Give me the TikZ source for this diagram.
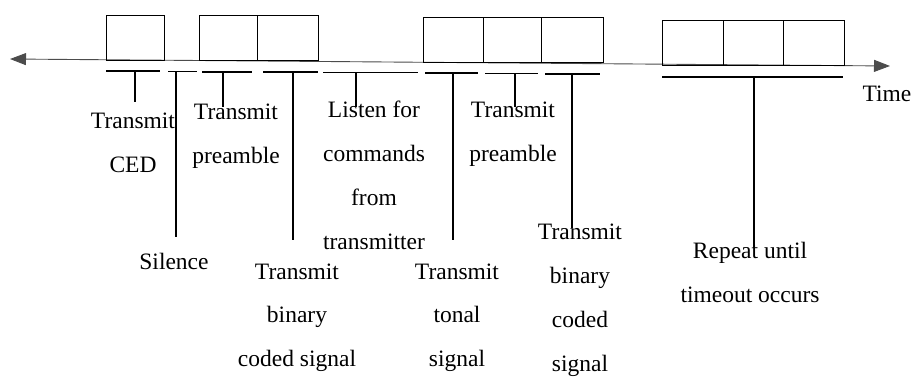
\documentclass[tikz,border=0pt]{standalone}
\usepackage{fontspec}
\setmainfont{Liberation Serif}
\usetikzlibrary{arrows.meta}
\begin{document}
\begin{tikzpicture}[x=1pt,y=-1pt,
  cell/.style={draw,line width=1.3pt,inner sep=0pt,minimum height=45pt,anchor=south west},
  axis/.style={line width=0.9pt,black!70,{Triangle[length=16pt,width=12pt]}-{Triangle[length=16pt,width=12pt]}},
  seg/.style={line width=1.4pt},
  tick/.style={line width=1.4pt},
  lbl/.style={font=\fontsize{23.5}{44}\selectfont,align=center,anchor=base,inner sep=0pt}]
\useasboundingbox (0,0) rectangle (911,379);

% time axis
\coordinate (tL) at (10,59);
\coordinate (tR) at (890,66);
\draw[axis] (tL) -- (tR);
\node[lbl] (time) at (887,102) {Time};

% frames above the axis
\node[cell,minimum width=58pt] (b1) at (106,61) {};
\node[cell,minimum width=58pt] (b2) at (199,61) {};
\node[cell,minimum width=61pt] (b3) at (257,61) {};
\node[cell,minimum width=60pt] (b4) at (423,63) {};
\node[cell,minimum width=58pt] (b5) at (483,63) {};
\node[cell,minimum width=62pt] (b6) at (541,63) {};
\node[cell,minimum width=61pt] (b7) at (662,66) {};
\node[cell,minimum width=60pt] (b8) at (723,66) {};
\node[cell,minimum width=61pt] (b9) at (783,66) {};

% interval bars under the axis
\draw[seg] (106,71) -- (160,71);
\draw[seg] (168,71.5) -- (197,71.5);
\draw[seg] (202,72) -- (252,72);
\draw[seg] (263,72) -- (318,72);
\draw[seg] (323,72.5) -- (418,72.5);
\draw[seg] (425,73) -- (478,73);
\draw[seg] (485,73.5) -- (538,73.5);
\draw[seg] (545,74) -- (600,74);
\draw[seg] (662,77) -- (843,77);

% tick anchors
\coordinate (c1) at (135,71);   \coordinate (c1e) at (135,102);
\coordinate (c2) at (176,71.5); \coordinate (c2e) at (176,237);
\coordinate (c3) at (223,72);   \coordinate (c3e) at (223,107);
\coordinate (c4) at (293,72);   \coordinate (c4e) at (293,240);
\coordinate (c5) at (356,72.5); \coordinate (c5e) at (356,107);
\coordinate (c6) at (453,73);   \coordinate (c6e) at (453,240);
\coordinate (c7) at (515,73.5); \coordinate (c7e) at (515,107);
\coordinate (c8) at (572,74);   \coordinate (c8e) at (572,228);
\coordinate (c9) at (754,77);   \coordinate (c9e) at (754,248);
\foreach \i in {1,...,9} \draw[tick] (c\i) -- (c\i e);

% labels (placed by the baseline of their last line)
\node[lbl] (l1) at (133,173) {Transmit\\CED};
\node[lbl] (l2) at (174,270) {Silence};
\node[lbl] (l3) at (236,164) {Transmit\\preamble};
\node[lbl] (l4) at (297,367) {Transmit\\binary\\coded signal};
\node[lbl] (l5) at (374,250) {Listen for\\commands\\from\\transmitter};
\node[lbl] (l6) at (457,367) {Transmit\\tonal\\signal};
\node[lbl] (l7) at (513,162) {Transmit\\preamble};
\node[lbl] (l8) at (580,372) {Transmit\\binary\\coded\\signal};
\node[lbl] (l9) at (750,303) {Repeat until\\timeout occurs};
\end{tikzpicture}
\end{document}
